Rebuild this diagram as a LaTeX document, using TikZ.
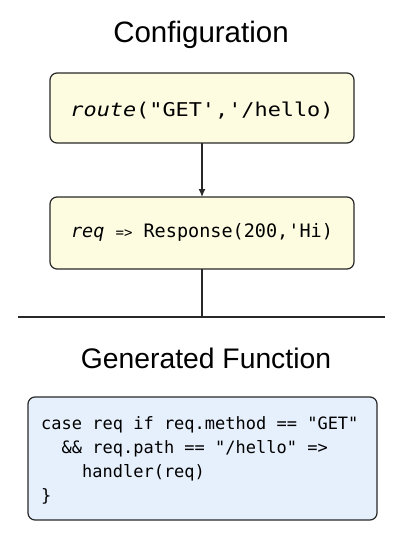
\documentclass[tikz,border=0pt]{standalone}
\usepackage{fontspec}
\setmainfont{Liberation Sans}
\newfontfamily\codefont{DejaVu Sans Mono}
\usetikzlibrary{arrows.meta}
\definecolor{boxyellow}{RGB}{253,252,225}
\definecolor{boxblue}{RGB}{230,240,252}
\definecolor{edge}{RGB}{40,40,40}
\tikzset{
  x=1pt, y=-1pt,
  title/.style={anchor=base, inner sep=0pt, font=\fontsize{29.5}{33}\selectfont, text=black},
  ybox/.style={draw=edge, line width=1.2pt, fill=boxyellow, rounded corners=7pt},
  bbox/.style={draw=edge, line width=1.2pt, fill=boxblue, rounded corners=7pt},
  conn/.style={draw=edge, line width=1.2pt},
  code/.style={anchor=base west, inner sep=0pt, font=\codefont\fontsize{17}{20}\selectfont},
}
\begin{document}
\begin{tikzpicture}
\useasboundingbox (0,0) rectangle (401,560);
\node[title] (t1) at (201,42) {Configuration};
\path[ybox] (50,73) rectangle (354,143);
\coordinate (b1top) at (202,73);
\coordinate (b1bot) at (202,143);
\node[anchor=base, inner sep=0pt, font=\codefont\fontsize{19}{22}\selectfont] (l1) at (202,116)
  {\scalebox{1.15}[1]{\itshape route\upshape("GET','/hello)}};
\path[ybox] (50,197) rectangle (354,269);
\coordinate (b2top) at (202,197);
\coordinate (b2bot) at (202,269);
\node[anchor=base, inner sep=0pt, font=\codefont\fontsize{18.5}{22}\selectfont] (l2) at (202,237)
  {\itshape req\upshape\ {\fontsize{14}{16}\selectfont =>} Response(200,'Hi)};
\draw[conn, -{Latex[length=8pt,width=7pt]}] (b1bot) -- (b2top);
\coordinate (hl) at (18,317);
\coordinate (hr) at (385,317);
\coordinate (hm) at (202,317);
\draw[conn] (b2bot) -- (hm);
\draw[conn] (hl) -- (hr);
\node[title, font=\fontsize{28.3}{32}\selectfont] (t2) at (206,368) {Generated Function};
\path[bbox] (28,397) rectangle (377,520);
\node[code] (c1) at (41,429) {case req if req.method == "GET"};
\node[code] (c2) at (41,453) {\ \ \&\& req.path == "/hello" =>};
\node[code] (c3) at (41,477) {\ \ \ \ handler(req)};
\node[code] (c4) at (41,501) {\}};
\end{tikzpicture}
\end{document}
